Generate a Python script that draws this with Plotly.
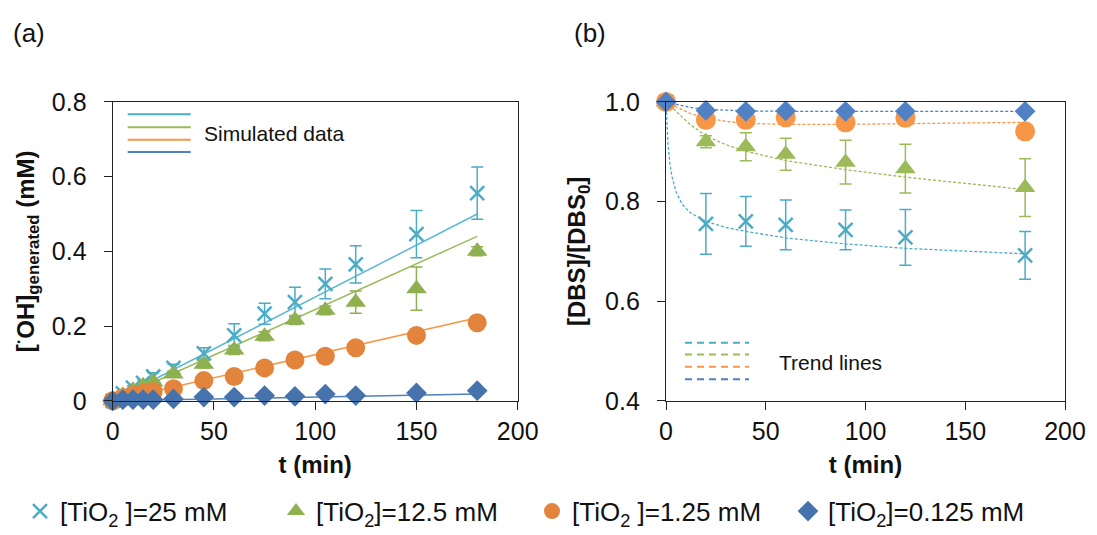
import plotly.graph_objects as go

# ---------------- data ----------------
t_a = [0, 5, 10, 15, 20, 30, 45, 60, 75, 90, 105, 120, 150, 180]
oh_25 = [0, 0.02, 0.035, 0.048, 0.065, 0.088, 0.127, 0.175, 0.233, 0.264, 0.313, 0.365, 0.446, 0.556]
oh_25_err = [0, 0.005, 0.005, 0.008, 0.01, 0.01, 0.015, 0.031, 0.028, 0.04, 0.04, 0.05, 0.063, 0.07]
oh_12 = [0, 0.015, 0.028, 0.04, 0.05, 0.072, 0.098, 0.136, 0.173, 0.216, 0.242, 0.264, 0.30, 0.40]
oh_12_err = [0, 0.003, 0.004, 0.005, 0.005, 0.008, 0.01, 0.012, 0.012, 0.012, 0.012, 0.03, 0.058, 0.012]
oh_125 = [0, 0.008, 0.015, 0.02, 0.025, 0.032, 0.054, 0.065, 0.088, 0.109, 0.119, 0.142, 0.175, 0.209]
oh_125_err = [0, 0.003, 0.003, 0.004, 0.004, 0.005, 0.005, 0.005, 0.006, 0.006, 0.006, 0.006, 0.008, 0.008]
oh_0125 = [0, 0.003, 0.003, 0.003, 0.003, 0.005, 0.01, 0.01, 0.014, 0.012, 0.018, 0.014, 0.021, 0.027]
oh_0125_err = [0, 0.001, 0.001, 0.001, 0.001, 0.002, 0.002, 0.002, 0.002, 0.002, 0.002, 0.002, 0.003, 0.003]

sim_t = [0, 30, 60, 90, 120, 150, 180]
sim_25 = [0, 0.083, 0.167, 0.25, 0.333, 0.417, 0.50]
sim_12 = [0, 0.073, 0.147, 0.22, 0.293, 0.367, 0.44]
sim_125 = [0, 0.037, 0.074, 0.111, 0.148, 0.185, 0.222]
sim_0125 = [0, 0.003, 0.006, 0.009, 0.012, 0.015, 0.018]

t_b = [0, 20, 40, 60, 90, 120, 180]
dbs_25 = [1.0, 0.755, 0.76, 0.753, 0.743, 0.728, 0.692]
dbs_25_err = [0.01, 0.061, 0.05, 0.05, 0.04, 0.056, 0.048]
dbs_12 = [1.0, 0.92, 0.91, 0.895, 0.879, 0.866, 0.828]
dbs_12_err = [0.005, 0.012, 0.028, 0.032, 0.044, 0.049, 0.058]
dbs_125 = [1.0, 0.964, 0.964, 0.969, 0.959, 0.968, 0.941]
dbs_125_err = [0.0, 0.01, 0.01, 0.012, 0.015, 0.01, 0.01]
dbs_0125 = [1.0, 0.983, 0.981, 0.982, 0.981, 0.981, 0.981]
dbs_0125_err = [0.0, 0.005, 0.005, 0.005, 0.005, 0.005, 0.005]

trend_t = [0, 0.5, 1, 2, 3, 5, 8, 12, 20, 30, 40, 60, 90, 120, 150, 180]
trend_25 = [1.0, 0.95, 0.915, 0.875, 0.85, 0.82, 0.795, 0.778, 0.76, 0.748, 0.740, 0.727, 0.715, 0.706, 0.700, 0.695]
trend_12 = [1.0, 0.998, 0.996, 0.992, 0.988, 0.98, 0.97, 0.955, 0.932, 0.914, 0.901, 0.882, 0.864, 0.849, 0.836, 0.824]
trend_125 = [1.0, 0.999, 0.998, 0.996, 0.994, 0.99, 0.984, 0.977, 0.968, 0.961, 0.957, 0.955, 0.955, 0.956, 0.957, 0.959]
trend_0125 = [1.0, 1.0, 0.999, 0.998, 0.997, 0.995, 0.992, 0.989, 0.985, 0.983, 0.982, 0.981, 0.981, 0.981, 0.981, 0.981]

series_names = ["[TiO<sub>2</sub> ]=25 mM", "[TiO<sub>2</sub>]=12.5 mM",
                "[TiO<sub>2</sub> ]=1.25 mM", "[TiO<sub>2</sub>]=0.125 mM"]
x_ticks = [0, 50, 100, 150, 200]
ya_ticks = [0, 0.2, 0.4, 0.6, 0.8]
yb_ticks = [0.4, 0.6, 0.8, 1.0]

# ---------------- styles ----------------
CYAN = "#4BACC6"
GREEN = "#8FB04F"
ORANGE_A = "#E3843D"
BLUE_A = "#4673AC"
GREEN_B = "#9BBB59"
ORANGE_B = "#F79646"
BLUE_B = "#4F81C4"
FONT = "Liberation Sans, Arial, sans-serif"
W, H = 1097, 535
H_PLOT = 530  # height left for the plot area after the legend's bottom push

fig = go.Figure()

def err(arr, color):
    return dict(type="data", array=arr, visible=True, color=color, thickness=1.5, width=6)

# ---- panel (a) simulated lines ----
for y, c in [(sim_25, "#5BB8D2"), (sim_12, "#9BBB59"), (sim_125, "#F79646"), (sim_0125, "#4F81BD")]:
    fig.add_trace(go.Scatter(x=sim_t, y=y, mode="lines", line=dict(color=c, width=1.5),
                             showlegend=False, hoverinfo="skip", xaxis="x", yaxis="y", cliponaxis=False))

# ---- panel (a) markers ----
fig.add_trace(go.Scatter(x=t_a, y=oh_25, mode="markers", name=series_names[0],
                         marker=dict(symbol="x-thin-open", size=14, color=CYAN, line=dict(color=CYAN, width=2.5)),
                         error_y=err(oh_25_err, CYAN), xaxis="x", yaxis="y", cliponaxis=False))
fig.add_trace(go.Scatter(x=t_a, y=oh_12, mode="markers", name=series_names[1],
                         marker=dict(symbol="triangle-up", size=18, color=GREEN),
                         error_y=err(oh_12_err, GREEN), xaxis="x", yaxis="y", cliponaxis=False))
fig.add_trace(go.Scatter(x=t_a, y=oh_125, mode="markers", name=series_names[2],
                         marker=dict(symbol="circle", size=19, color=ORANGE_A),
                         error_y=err(oh_125_err, ORANGE_A), xaxis="x", yaxis="y", cliponaxis=False))
fig.add_trace(go.Scatter(x=t_a, y=oh_0125, mode="markers", name=series_names[3],
                         marker=dict(symbol="diamond", size=16, color=BLUE_A),
                         error_y=err(oh_0125_err, BLUE_A), xaxis="x", yaxis="y", cliponaxis=False))

# ---- panel (b) trend lines ----
for y, c in [(trend_25, CYAN), (trend_12, GREEN_B), (trend_125, ORANGE_B), (trend_0125, BLUE_B)]:
    fig.add_trace(go.Scatter(x=trend_t, y=y, mode="lines", line=dict(color=c, width=1.3, dash="3px,2px"),
                             showlegend=False, hoverinfo="skip", xaxis="x2", yaxis="y2", cliponaxis=False))

# ---- panel (b) markers ----
fig.add_trace(go.Scatter(x=t_b, y=dbs_25, mode="markers", showlegend=False,
                         marker=dict(symbol="x-thin-open", size=14, color=CYAN, line=dict(color=CYAN, width=2.5)),
                         error_y=err(dbs_25_err, CYAN), xaxis="x2", yaxis="y2", cliponaxis=False))
fig.add_trace(go.Scatter(x=t_b, y=dbs_12, mode="markers", showlegend=False,
                         marker=dict(symbol="triangle-up", size=18, color=GREEN_B),
                         error_y=err(dbs_12_err, GREEN_B), xaxis="x2", yaxis="y2", cliponaxis=False))
fig.add_trace(go.Scatter(x=t_b, y=dbs_125, mode="markers", showlegend=False,
                         marker=dict(symbol="circle", size=20, color=ORANGE_B),
                         error_y=err(dbs_125_err, ORANGE_B), xaxis="x2", yaxis="y2", cliponaxis=False))
fig.add_trace(go.Scatter(x=t_b, y=dbs_0125, mode="markers", showlegend=False,
                         marker=dict(symbol="diamond", size=16, color=BLUE_B),
                         error_y=err(dbs_0125_err, BLUE_B), xaxis="x2", yaxis="y2", cliponaxis=False))

def px_x(p):
    return p / W

def px_y(p):
    return 1 - p / H

def dom_y(p):
    return 1 - p / H_PLOT

axis_common = dict(showline=True, linecolor="#222222", linewidth=1.3, mirror=True,
                   ticks="outside", ticklen=8, tickcolor="#222222", tickwidth=1.3,
                   showgrid=False, zeroline=False, automargin=False,
                   tickfont=dict(family=FONT, size=25, color="#111111"))

fig.update_layout(
    width=W, height=H,
    margin=dict(l=0, r=0, t=0, b=0),
    paper_bgcolor="white", plot_bgcolor="white",
    font=dict(family=FONT, color="#111111"),
    xaxis=dict(domain=[px_x(112.7), px_x(517.7)], range=[0, 200], tickvals=x_ticks,
               ticklabelstandoff=0,
               title=dict(text="<b>t (min)</b>", font=dict(family=FONT, size=24), standoff=12),
               anchor="y", **axis_common),
    yaxis=dict(domain=[dom_y(402.3), dom_y(102.3)], range=[0, 0.8], tickvals=ya_ticks,
               ticktext=["0", "0.2", "0.4", "0.6", "0.8"], ticklabelstandoff=12,
               title=dict(text="<b>[<sup>·</sup>OH]<sub>generated</sub> (mM)</b>",
                          font=dict(family=FONT, size=24), standoff=10),
               anchor="x", **axis_common),
    xaxis2=dict(domain=[px_x(666), px_x(1065)], range=[0, 200], tickvals=x_ticks,
                ticklabelstandoff=0,
                title=dict(text="<b>t (min)</b>", font=dict(family=FONT, size=24), standoff=12),
                anchor="y2", **axis_common),
    yaxis2=dict(domain=[dom_y(402.3), dom_y(102.3)], range=[0.4, 1.0], tickvals=yb_ticks,
                tickformat=".1f", ticklabelstandoff=12,
                title=dict(text="<b>[DBS]/[DBS<sub>0</sub>]</b>",
                           font=dict(family=FONT, size=24), standoff=12),
                anchor="x2", **axis_common),
    legend=dict(orientation="h", x=px_x(20), y=px_y(518), yanchor="middle", xanchor="left",
                font=dict(family=FONT, size=26, color="#111111"),
                itemwidth=30, entrywidth=211, entrywidthmode="pixels",
                bgcolor="rgba(0,0,0,0)", tracegroupgap=0),
    showlegend=True,
)

# panel labels
fig.add_annotation(text="(a)", x=px_x(11), y=px_y(33), xref="paper", yref="paper",
                   xanchor="left", yanchor="middle", showarrow=False,
                   font=dict(family=FONT, size=26, color="#111111"))
fig.add_annotation(text="(b)", x=px_x(572), y=px_y(33), xref="paper", yref="paper",
                   xanchor="left", yanchor="middle", showarrow=False,
                   font=dict(family=FONT, size=26, color="#111111"))

# in-panel key: simulated data (panel a)
for yy, c in [(115.7, "#4BACC6"), (129, "#9BBB59"), (141.7, "#F79646"), (154, "#4F81BD")]:
    fig.add_shape(type="line", xref="paper", yref="paper", x0=px_x(127.7), x1=px_x(190.7),
                  y0=px_y(yy), y1=px_y(yy), line=dict(color=c, width=2))
fig.add_annotation(text="Simulated data", x=px_x(202), y=px_y(135.7), xref="paper", yref="paper",
                   xanchor="left", yanchor="middle", showarrow=False,
                   font=dict(family=FONT, size=21, color="#111111"))

# in-panel key: trend lines (panel b)
for yy, c in [(347.3, "#4BACC6"), (359.3, "#9BBB59"), (371.7, "#F79646"), (384.3, "#4F81BD")]:
    fig.add_shape(type="line", xref="paper", yref="paper", x0=px_x(685), x1=px_x(749),
                  y0=px_y(yy), y1=px_y(yy), line=dict(color=c, width=2, dash="7px,5px"))
fig.add_annotation(text="Trend lines", x=px_x(777), y=px_y(367), xref="paper", yref="paper",
                   xanchor="left", yanchor="middle", showarrow=False,
                   font=dict(family=FONT, size=21, color="#111111"))

fig.write_html("out.html")
